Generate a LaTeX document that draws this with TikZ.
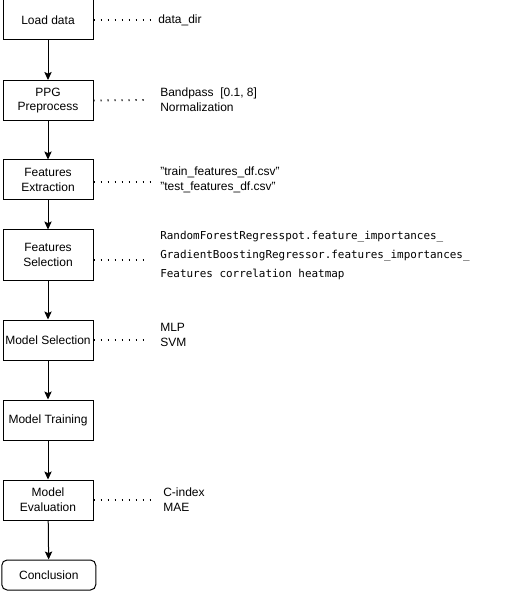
\documentclass[tikz,border=0pt]{standalone}
\usepackage{fontspec}
\setmainfont{Liberation Sans}
\newfontfamily\codefont{DejaVu Sans Mono}
\usetikzlibrary{positioning,arrows.meta}

\tikzset{
  stepbox/.style={draw, line width=0.75pt, minimum width=67.5pt, minimum height=30pt,
    inner sep=1pt, align=center, font=\fontsize{9pt}{11pt}\selectfont},
  endbox/.style={stepbox, rounded corners=4pt, minimum width=70.5pt, minimum height=22.5pt},
  note/.style={anchor=west, align=left, inner sep=0pt, font=\fontsize{9pt}{11.25pt}\selectfont},
  codenote/.style={anchor=west, align=left, inner sep=0pt, font=\codefont\fontsize{8.2pt}{14.25pt}\selectfont},
  flow/.style={-{Stealth[length=6pt,width=5.5pt,inset=1.2pt]}, line width=0.75pt},
  dots/.style={line width=1.35pt, dash pattern=on 0.9pt off 4.35pt}
}

\begin{document}
\begin{tikzpicture}[x=0.75pt,y=-0.75pt]
\useasboundingbox (0,0) rectangle (509,591);

\node[stepbox] (load) at (48,20) {Load data};
\node[stepbox] (ppg) at (48,100.5) {PPG\\Preprocess};
\node[stepbox] (fext) at (48,180) {Features\\Extraction};
\node[stepbox, minimum height=37.5pt] (fsel) at (48,255) {Features\\Selection};
\node[stepbox] (msel) at (48,340) {Model Selection};
\node[stepbox] (mtrain) at (48,420) {Model Training};
\node[stepbox] (meval) at (48,500) {Model\\Evaluation};
\node[endbox] (concl) at (48.8,575) {Conclusion};

\draw[flow] (load) -- (ppg);
\draw[flow] (ppg) -- (fext);
\draw[flow] (fext) -- (fsel);
\draw[flow] (fsel) -- (msel);
\draw[flow] (msel) -- (mtrain);
\draw[flow] (mtrain) -- (meval);
\draw[flow] (meval) -- (concl);

% notes on the right
\node[note] (n1) at (158,20) {data\_dir};
\node[note] (n2) at (160,100) {Bandpass~~[0.1, 8]\\Normalization};
\node[note] (n3) at (160,180) {\symbol{34}train\_features\_df.csv\symbol{34}\\\symbol{34}test\_features\_df.csv\symbol{34}};
\node[codenote] (n4) at (160,255) {RandomForestRegresspot.feature\_importances\_\\GradientBoostingRegressor.features\_importances\_\\Features correlation heatmap};
\node[note] (n5) at (160,335) {MLP\\SVM};
\node[note] (n6) at (163,500) {C-index\\MAE};

\coordinate (d1) at (154,20);
\coordinate (d2) at (146,100);
\coordinate (d3) at (150,182);
\coordinate (d4) at (147,260);
\coordinate (d5) at (145,340);
\coordinate (d6) at (154,500);

\draw[dots] (load.east) -- (d1);
\draw[dots] (ppg.east) -- (d2);
\draw[dots] (fext.east |- d3) -- (d3);
\draw[dots] (fsel.east |- d4) -- (d4);
\draw[dots] (msel.east) -- (d5);
\draw[dots] (meval.east) -- (d6);
\end{tikzpicture}
\end{document}
